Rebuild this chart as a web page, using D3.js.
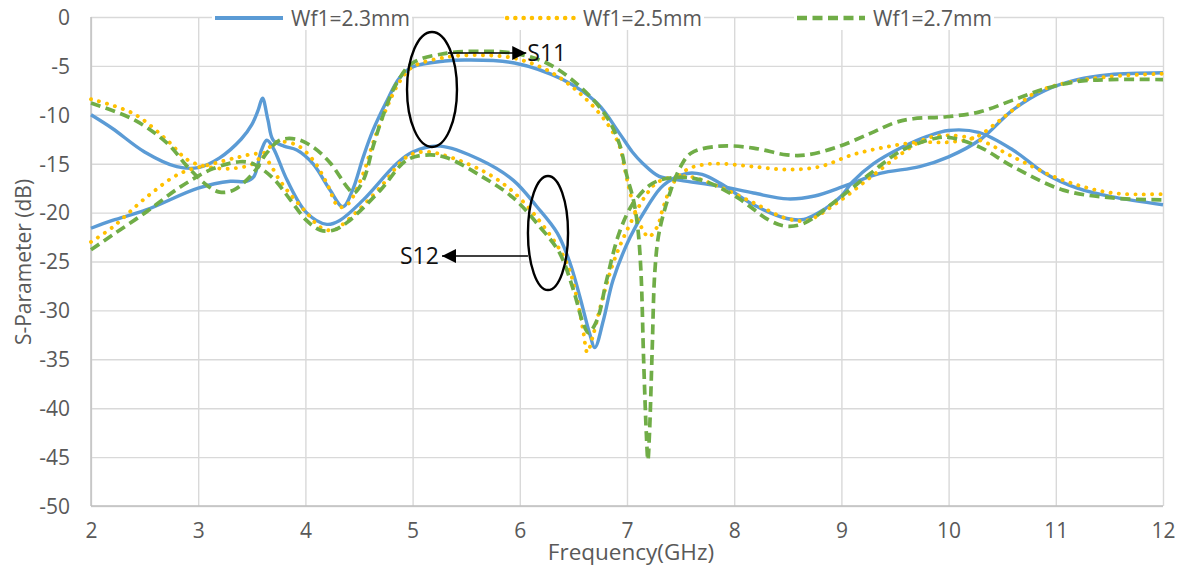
<!DOCTYPE html>
<html><head><meta charset="utf-8">
<script src="https://cdn.jsdelivr.net/npm/d3@7"></script>
<style>
body{margin:0;background:#fff;}
svg{display:block;font-family:"Open Sans",sans-serif;}
</style></head>
<body><svg id="c" width="1185" height="568"></svg>
<script>
// ---- data ----
const xTicks = [2,3,4,5,6,7,8,9,10,11,12];
const yTicks = [0,-5,-10,-15,-20,-25,-30,-35,-40,-45,-50];
const seriesNames = ["Wf1=2.3mm","Wf1=2.5mm","Wf1=2.7mm"];

const s11_23_f = [2.0,2.2,2.5,2.8,3.0,3.2,3.4,3.5,3.56,3.6,3.65,3.7,3.8,3.92,4.07,4.23,4.35,4.44,4.54,4.63,4.75,4.88,5.0,5.3,5.5,5.95,6.4,6.72,6.93,7.05,7.15,7.3,7.5,7.87,8.18,8.5,8.75,9.05,9.36,9.73,10.0,10.3,10.6,10.9,11.2,11.5,12.0];
const s11_23_db = [-10.0,-11.4,-13.8,-15.3,-15.4,-14.4,-12.5,-11.0,-9.5,-8.3,-10.5,-12.6,-13.2,-13.6,-15.0,-17.7,-19.4,-17.7,-14.3,-11.6,-8.8,-6.2,-5.1,-4.5,-4.4,-4.7,-6.4,-8.8,-11.9,-13.8,-15.0,-16.3,-16.7,-17.3,-18.0,-18.6,-18.3,-17.2,-16.0,-15.3,-14.3,-12.5,-9.5,-7.5,-6.4,-5.9,-5.7];

const s12_23_f = [2.0,2.2,2.52,3.0,3.3,3.45,3.52,3.59,3.64,3.7,3.83,4.01,4.2,4.32,4.54,4.85,5.0,5.26,5.63,5.94,6.16,6.35,6.47,6.56,6.65,6.7,6.78,6.87,7.03,7.19,7.34,7.56,7.7,7.87,8.18,8.49,8.65,8.85,9.0,9.1,9.3,9.57,9.8,10.0,10.28,10.6,10.9,11.2,11.53,12.0];
const s12_23_db = [-21.6,-20.8,-19.7,-17.5,-16.8,-16.8,-16.3,-13.6,-12.6,-13.4,-16.7,-20.0,-21.2,-20.8,-18.7,-15.0,-13.8,-13.2,-14.6,-16.7,-19.4,-22.1,-25.2,-28.6,-32.3,-33.8,-31.0,-26.9,-22.5,-19.4,-17.2,-16.0,-16.1,-17.0,-19.2,-20.6,-20.7,-19.6,-18.3,-16.9,-15.0,-13.3,-12.2,-11.6,-11.8,-13.6,-16.0,-17.5,-18.4,-19.2];

const s11_25_f = [2.0,2.4,2.71,2.9,3.08,3.3,3.51,3.64,3.73,3.92,4.07,4.2,4.31,4.39,4.54,4.63,4.75,4.88,5.0,5.32,5.63,5.94,6.25,6.56,6.81,6.93,6.98,7.03,7.09,7.15,7.2,7.28,7.34,7.43,7.56,7.71,7.87,8.18,8.49,8.8,9.1,9.41,9.72,10.0,10.25,10.45,10.6,10.8,11.07,11.5,12.0];
const s11_25_db = [-8.4,-9.9,-12.6,-14.6,-15.3,-15.5,-15.0,-13.6,-12.8,-13.1,-14.6,-17.0,-19.4,-19.2,-16.0,-12.9,-9.5,-6.6,-5.1,-4.1,-3.9,-4.2,-5.4,-7.8,-10.8,-13.2,-15.6,-18.0,-20.4,-21.8,-22.5,-21.5,-19.4,-17.0,-15.6,-15.1,-15.0,-15.3,-15.6,-15.3,-14.1,-13.3,-12.8,-12.8,-12.3,-10.8,-9.5,-7.8,-6.8,-6.1,-5.8];

const s12_25_f = [2.0,2.2,2.52,2.83,3.14,3.39,3.55,3.64,3.76,3.88,4.01,4.14,4.26,4.39,4.7,4.91,5.0,5.16,5.63,5.94,6.25,6.44,6.53,6.59,6.63,6.68,6.75,6.87,7.0,7.19,7.3,7.56,7.87,8.18,8.49,8.68,8.96,9.27,9.57,9.8,10.0,10.29,10.6,11.07,11.53,12.0];
const s12_25_db = [-23.0,-21.5,-18.4,-16.0,-15.0,-14.3,-14.0,-14.6,-16.7,-18.4,-20.0,-21.5,-21.8,-20.8,-17.4,-14.6,-14.0,-13.8,-15.6,-17.9,-21.8,-25.2,-28.6,-32.0,-34.3,-32.7,-29.7,-25.2,-21.8,-18.0,-16.8,-16.3,-17.4,-19.0,-20.6,-20.8,-19.0,-16.4,-13.9,-12.4,-12.1,-12.6,-14.3,-16.7,-18.0,-18.1];

const s11_27_f = [2.0,2.4,2.71,2.9,3.08,3.2,3.33,3.51,3.64,3.76,3.92,4.07,4.23,4.39,4.45,4.54,4.63,4.72,4.85,5.0,5.32,5.63,5.94,6.25,6.56,6.81,6.93,7.0,7.06,7.1,7.13,7.155,7.18,7.195,7.21,7.235,7.26,7.3,7.4,7.5,7.6,7.87,8.18,8.49,8.68,8.96,9.27,9.5,9.67,9.98,10.29,10.6,10.91,11.2,11.5,12.0];
const s11_27_db = [-8.8,-10.5,-12.9,-15.3,-17.2,-17.9,-17.7,-16.0,-13.9,-12.6,-12.5,-13.3,-14.9,-17.4,-18.0,-16.7,-13.3,-10.2,-6.8,-4.7,-3.7,-3.5,-3.7,-4.7,-7.1,-10.2,-13.0,-16.3,-18.7,-21.5,-26.0,-35.0,-42.5,-45.3,-42.5,-34.0,-26.0,-22.0,-18.0,-15.3,-13.9,-13.2,-13.4,-14.1,-14.1,-13.3,-11.9,-10.8,-10.4,-10.2,-9.7,-8.5,-7.3,-6.6,-6.4,-6.4];

const s12_27_f = [2.0,2.2,2.52,2.83,3.14,3.39,3.51,3.7,3.86,4.01,4.14,4.26,4.39,4.7,4.95,5.16,5.32,5.63,5.94,6.19,6.37,6.5,6.59,6.64,6.72,6.81,6.93,7.06,7.24,7.45,7.7,8.02,8.33,8.49,8.65,8.96,9.27,9.57,9.88,10.0,10.29,10.6,11.07,11.53,12.0];
const s12_27_db = [-23.8,-22.3,-19.9,-17.4,-15.5,-14.8,-15.0,-16.5,-18.7,-20.8,-21.8,-21.8,-21.0,-17.7,-14.6,-14.1,-14.4,-16.2,-18.5,-21.5,-24.1,-27.9,-31.3,-32.3,-31.0,-26.9,-22.0,-19.0,-17.0,-16.4,-16.7,-18.4,-20.8,-21.4,-21.1,-18.7,-16.0,-13.6,-12.4,-12.3,-13.3,-15.3,-17.7,-18.5,-18.7];

// ---- layout ----
const svg = d3.select("#c");
const x = d3.scaleLinear().domain([2,12]).range([91,1163]);
const y = d3.scaleLinear().domain([-50,0]).range([506,17]);

const styles = [
  {color:"#5B9BD5", width:3.4, dash:null, cap:"butt"},
  {color:"#FFC000", width:3.9, dash:"0.1 8.2", cap:"round"},
  {color:"#70AD47", width:3.7, dash:"10 5.5", cap:"butt"}
];
const curves = [
  {s:0, f:s11_23_f, v:s11_23_db}, {s:0, f:s12_23_f, v:s12_23_db},
  {s:1, f:s11_25_f, v:s11_25_db}, {s:1, f:s12_25_f, v:s12_25_db},
  {s:2, f:s11_27_f, v:s11_27_db}, {s:2, f:s12_27_f, v:s12_27_db}
];

// grid
const gridC = "#D9D9D9";
svg.append("g").call(d3.axisLeft(y).tickValues(yTicks).tickSize(-(1163-91)).tickFormat(""))
  .attr("transform","translate(91,0)")
  .call(g=>{g.select(".domain").remove(); g.selectAll("line").attr("stroke",gridC).attr("stroke-width",1.4);});
svg.append("g").call(d3.axisBottom(x).tickValues(xTicks).tickSize(-(506-17)).tickFormat(""))
  .attr("transform","translate(0,506)")
  .call(g=>{g.select(".domain").remove(); g.selectAll("line").attr("stroke",gridC).attr("stroke-width",1.4);});
// axis lines
svg.append("line").attr("x1",x(2)).attr("x2",x(2)).attr("y1",y(0)).attr("y2",y(-50)).attr("stroke","#BFBFBF").attr("stroke-width",1.4);
svg.append("line").attr("x1",x(2)).attr("x2",x(12)).attr("y1",y(-50)).attr("y2",y(-50)).attr("stroke","#BFBFBF").attr("stroke-width",1.4);

// tick labels
const yAx = svg.append("g").attr("transform","translate(70,0)")
  .call(d3.axisLeft(y).tickValues(yTicks).tickSize(0).tickPadding(0).tickFormat(d=>String(d)));
yAx.select(".domain").remove();
yAx.selectAll("text").attr("font-size",21).attr("fill","#595959").attr("font-family","Open Sans").attr("dy","0.35em");
const xAx = svg.append("g").attr("transform","translate(0,522)")
  .call(d3.axisBottom(x).tickValues(xTicks).tickSize(0).tickPadding(0).tickFormat(d=>String(d)));
xAx.select(".domain").remove();
xAx.selectAll("text").attr("font-size",21).attr("fill","#595959").attr("font-family","Open Sans").attr("dy","0.75em");

// axis titles
svg.append("text").attr("x",631).attr("y",560).attr("text-anchor","middle")
  .attr("font-size",22.5).attr("fill","#595959").text("Frequency(GHz)");
svg.append("text").attr("transform","translate(31,262) rotate(-90)").attr("text-anchor","middle")
  .attr("font-size",21).attr("fill","#595959").text("S-Parameter (dB)");

// curves
const line = d3.line().x(d=>x(d[0])).y(d=>y(d[1])).curve(d3.curveCatmullRom.alpha(0.5));
const plot = svg.append("g");
curves.forEach(c=>{
  const st = styles[c.s];
  const pts = c.f.map((f,i)=>[f,c.v[i]]);
  plot.append("path").attr("d",line(pts)).attr("fill","none")
    .attr("stroke",st.color).attr("stroke-width",st.width)
    .attr("stroke-dasharray",st.dash).attr("stroke-linecap",st.cap).attr("stroke-linejoin","round");
});

// legend
const legendX = [215,507,797];
const leg = svg.append("g");
seriesNames.forEach((n,i)=>{
  const st = styles[i];
  const g = leg.append("g").attr("transform",`translate(${legendX[i]},0)`);
  g.append("rect").attr("x",-3).attr("y",4).attr("width",200).attr("height",26).attr("fill","#fff");
  g.append("line").attr("x1",0).attr("x2",68).attr("y1",18).attr("y2",18)
    .attr("stroke",st.color).attr("stroke-width",st.width+0.6)
    .attr("stroke-dasharray",st.dash).attr("stroke-linecap",st.cap);
  g.append("text").attr("x",76).attr("y",26).attr("font-size",21).attr("fill","#595959").text(n);
});

// annotations (data coordinates)
const ann = svg.append("g");
svg.append("defs").html(`<marker id="ah" viewBox="0 0 10 10" refX="10" refY="5" markerWidth="16" markerHeight="14" markerUnits="userSpaceOnUse" orient="auto"><path d="M0,0 L10,5 L0,10 Z" fill="#000"/></marker>`);
const ell1 = {f:5.181, v:-7.41, rf:0.233, rv:5.88};
const ell2 = {f:6.263, v:-22.09, rf:0.187, rv:5.83};
[ell1,ell2].forEach(e=>{
  ann.append("ellipse").attr("cx",x(e.f)).attr("cy",y(e.v))
    .attr("rx",x(e.f+e.rf)-x(e.f)).attr("ry",y(e.v-e.rv)-y(e.v))
    .attr("fill","none").attr("stroke","#000").attr("stroke-width",2.4);
});
ann.append("line").attr("x1",x(5.33)).attr("x2",x(6.06)).attr("y1",y(-3.68)).attr("y2",y(-3.68))
  .attr("stroke","#000").attr("stroke-width",1.5).attr("marker-end","url(#ah)");
ann.append("line").attr("x1",x(6.076)).attr("x2",x(5.274)).attr("y1",y(-24.44)).attr("y2",y(-24.44))
  .attr("stroke","#000").attr("stroke-width",1.5).attr("marker-end","url(#ah)");
ann.append("text").attr("x",x(6.07)).attr("y",y(-4.5)).attr("font-size",23).attr("fill","#111").text("S11");
ann.append("text").attr("x",x(5.245)).attr("y",y(-25.3)).attr("text-anchor","end").attr("font-size",23).attr("fill","#111").text("S12");
</script></body></html>
